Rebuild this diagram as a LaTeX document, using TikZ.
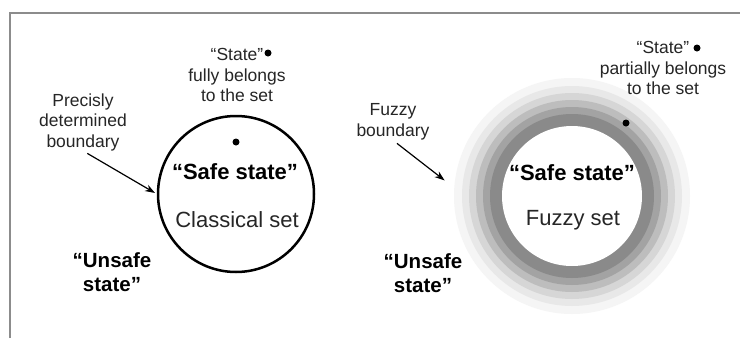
\documentclass[tikz,border=0pt]{standalone}
\usepackage{fontspec}
\setmainfont{Liberation Sans}
\usetikzlibrary{arrows.meta}
\begin{document}
\begin{tikzpicture}[x=1pt,y=-1pt,
  note/.style={font=\fontsize{17.5}{20.5}\selectfont, align=center, text=black!85, inner sep=0},
  safe/.style={font=\fontsize{22}{24}\selectfont\bfseries, inner sep=0},
  setname/.style={font=\fontsize{22}{24}\selectfont, inner sep=0, text=black!85},
  unsafe/.style={font=\fontsize{20.5}{23.5}\selectfont\bfseries, align=center, inner sep=0},
  spot/.style={circle, fill=black, inner sep=0, minimum size=7pt},
  ring/.style={circle, inner sep=0, draw=none},
  pointer/.style={-{Stealth[length=10pt,width=7pt]}, line width=1.2pt}]
\useasboundingbox (0,0) rectangle (740,338);
\fill[white] (0,0) rectangle (740,338);
% frame
\draw[black!45, line width=2pt] (10,338) -- (10,12.5) -- (740,12.5);

% ---- classical set ----
\node[circle, draw, line width=2.5pt, minimum size=156pt, inner sep=0] (cset) at (236,194) {};
\node[spot] (cin) at (236,142) {};
\node[safe] (csafe) at (235,172) {``Safe state''};
\node[setname] (cname) at (237,220) {Classical set};
\node[note] (cstate) at (237,75) {``State''\\fully belongs\\to the set};
\node[spot] (cout) at (268,53) {};
\node[note] (cbound) at (83,122) {Precisly\\determined\\boundary};
\node[unsafe] (cunsafe) at (112,272) {``Unsafe\\state''};
\draw[pointer, shorten <=5pt, shorten >=2pt] (cbound.south) -- (cset.west);

% ---- fuzzy set ----
\node[ring, minimum size=236pt, fill=black!4] (f1) at (572,196) {};
\node[ring, minimum size=220pt, fill=black!9] (f2) at (572,196) {};
\node[ring, minimum size=206pt, fill=black!16] (f3) at (572,196) {};
\node[ring, minimum size=192pt, fill=black!26] (f4) at (572,196) {};
\node[ring, minimum size=178pt, fill=black!36] (f5) at (572,196) {};
\node[ring, minimum size=164pt, fill=black!46] (f6) at (572,196) {};
\node[ring, minimum size=140pt, fill=white] (fset) at (572,196) {};
\node[spot] (fin) at (626,123) {};
\node[safe] (fsafe) at (572,173) {``Safe state''};
\node[setname] (fname) at (573,220) {Fuzzy set};
\node[note] (fstate) at (663,68) {``State''\\partially belongs\\to the set};
\node[spot] (fout) at (697,48) {};
\node[note] (fbound) at (393,122) {Fuzzy\\boundary};
\node[unsafe] (funsafe) at (423,273) {``Unsafe\\state''};
\draw[pointer, shorten <=5pt, shorten >=12pt] (fbound.south) -- (f1.176);
\end{tikzpicture}
\end{document}
